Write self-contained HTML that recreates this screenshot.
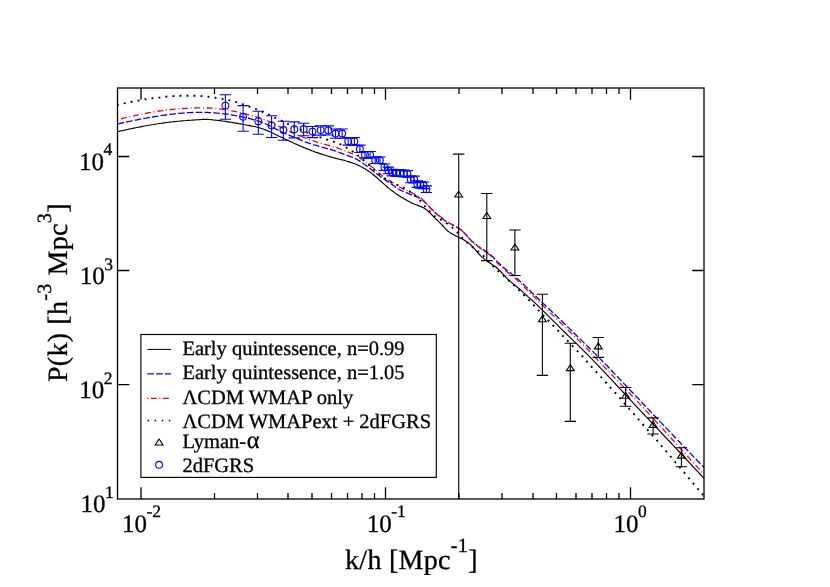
<!DOCTYPE html>
<html lang="en"><head><meta charset="utf-8"><title>P(k)</title>
<style>html,body{margin:0;padding:0;background:#fff}svg{display:block;will-change:transform}text{font-family:"Liberation Serif","DejaVu Serif",serif;fill:#000;stroke:#000;stroke-width:0.3px;text-rendering:geometricPrecision}</style>
</head><body>
<svg width="830" height="587" viewBox="0 0 830 587">
<rect width="830" height="587" fill="#fff"/>
<defs><clipPath id="c"><rect x="117.5" y="88.0" width="586.5" height="411.0"/></clipPath></defs>
<g clip-path="url(#c)" fill="none">
<path d="M117.5 131.7 L119.0 131.4 L120.5 131.0 L122.0 130.7 L123.5 130.4 L125.0 130.0 L126.5 129.7 L128.0 129.4 L129.5 129.0 L131.0 128.7 L132.5 128.4 L134.0 128.1 L135.5 127.8 L137.0 127.5 L138.5 127.2 L140.0 126.9 L141.5 126.6 L143.0 126.3 L144.5 126.0 L146.0 125.8 L147.5 125.5 L149.0 125.2 L150.5 125.0 L152.0 124.7 L153.5 124.5 L155.0 124.2 L156.5 124.0 L158.0 123.8 L159.5 123.5 L161.0 123.3 L162.5 123.1 L164.0 122.9 L165.5 122.7 L167.0 122.5 L168.5 122.3 L170.0 122.1 L171.5 122.0 L173.0 121.8 L174.5 121.6 L176.0 121.5 L177.5 121.3 L179.0 121.2 L180.5 121.0 L182.0 120.9 L183.5 120.8 L185.0 120.7 L186.5 120.5 L188.0 120.4 L189.5 120.3 L191.0 120.2 L192.5 120.1 L194.0 120.0 L195.5 119.9 L197.0 119.8 L198.5 119.7 L200.0 119.6 L201.5 119.5 L203.0 119.4 L204.5 119.3 L206.0 119.3 L207.5 119.4 L209.0 119.5 L210.5 119.6 L212.0 119.8 L213.5 120.0 L215.0 120.1 L216.5 120.3 L218.0 120.4 L219.5 120.6 L221.0 120.8 L222.5 121.0 L224.0 121.2 L225.5 121.4 L227.0 121.6 L228.5 121.9 L230.0 122.1 L231.5 122.3 L233.0 122.6 L234.5 122.9 L236.0 123.1 L237.5 123.4 L239.0 123.7 L240.5 123.9 L242.0 124.2 L243.5 124.5 L245.0 124.8 L246.5 125.1 L248.0 125.3 L249.5 125.6 L251.0 125.9 L252.5 126.2 L254.0 126.5 L255.5 126.8 L257.0 127.2 L258.5 127.6 L260.0 128.0 L261.5 128.5 L263.0 129.0 L264.5 129.5 L266.0 130.1 L267.5 130.7 L269.0 131.4 L270.5 132.1 L272.0 132.8 L273.5 133.6 L275.0 134.3 L276.5 135.0 L278.0 135.7 L279.5 136.4 L281.0 137.1 L282.5 137.8 L284.0 138.5 L285.5 139.2 L287.0 140.0 L288.5 140.7 L290.0 141.4 L291.5 142.1 L293.0 142.8 L294.5 143.5 L296.0 144.1 L297.5 144.8 L299.0 145.5 L300.5 146.1 L302.0 146.8 L303.5 147.4 L305.0 148.0 L306.5 148.6 L308.0 149.2 L309.5 149.8 L311.0 150.4 L312.5 151.0 L314.0 151.5 L315.5 152.1 L317.0 152.6 L318.5 153.1 L320.0 153.6 L321.5 154.1 L323.0 154.6 L324.5 155.0 L326.0 155.5 L327.5 156.0 L329.0 156.4 L330.5 156.9 L332.0 157.3 L333.5 157.7 L335.0 158.1 L336.5 158.5 L338.0 158.9 L339.5 159.2 L341.0 159.6 L342.5 159.9 L344.0 160.3 L345.5 160.7 L347.0 161.2 L348.5 161.6 L350.0 162.1 L351.5 162.6 L353.0 163.2 L354.5 163.7 L356.0 164.3 L357.5 165.0 L359.0 165.6 L360.5 166.4 L362.0 167.1 L363.5 167.9 L365.0 168.8 L366.5 169.8 L368.0 170.7 L369.5 171.8 L371.0 172.9 L372.5 174.0 L374.0 175.2 L375.5 176.5 L377.0 177.8 L378.5 179.1 L380.0 180.5 L381.5 181.8 L383.0 183.2 L384.5 184.6 L386.0 185.9 L387.5 187.2 L389.0 188.4 L390.5 189.6 L392.0 190.7 L393.5 191.8 L395.0 192.9 L396.5 193.9 L398.0 194.9 L399.5 195.9 L401.0 196.9 L402.5 197.8 L404.0 198.7 L405.5 199.6 L407.0 200.5 L408.5 201.3 L410.0 202.1 L411.5 202.9 L413.0 203.5 L414.5 204.2 L416.0 204.7 L417.5 205.3 L419.0 205.9 L420.5 206.5 L422.0 207.1 L423.5 207.8 L425.0 208.7 L426.5 209.8 L428.0 211.1 L429.5 212.5 L431.0 214.0 L432.5 215.5 L434.0 217.0 L435.5 218.6 L437.0 220.0 L438.5 221.4 L440.0 222.8 L441.5 224.3 L443.0 226.0 L444.5 227.7 L446.0 229.3 L447.5 230.7 L449.0 231.9 L450.5 232.9 L452.0 233.8 L453.5 234.7 L455.0 235.5 L456.5 236.3 L458.0 237.0 L459.5 237.7 L461.0 238.4 L462.5 239.1 L464.0 240.0 L465.5 240.9 L467.0 242.0 L468.5 243.1 L470.0 244.4 L471.5 245.7 L473.0 247.2 L474.5 248.9 L476.0 250.6 L477.5 252.3 L479.0 254.0 L480.5 255.6 L482.0 257.1 L483.5 258.4 L485.0 259.6 L486.5 260.7 L488.0 261.7 L489.5 262.7 L491.0 263.7 L492.5 264.8 L494.0 265.8 L495.5 266.8 L497.0 268.0 L498.5 269.4 L500.0 270.9 L501.5 272.5 L503.0 274.1 L504.5 275.7 L506.0 277.3 L507.5 278.8 L509.0 280.3 L510.5 281.6 L512.0 282.9 L513.5 284.1 L515.0 285.3 L516.5 286.5 L518.0 287.7 L519.5 289.0 L521.0 290.4 L522.5 291.7 L524.0 293.1 L525.5 294.4 L527.0 295.7 L528.5 297.1 L530.0 298.4 L531.5 299.8 L533.0 301.1 L534.5 302.5 L536.0 303.9 L537.5 305.4 L539.0 306.8 L540.5 308.3 L542.0 309.7 L543.5 311.2 L545.0 312.7 L546.5 314.2 L548.0 315.7 L549.5 317.2 L551.0 318.7 L552.5 320.2 L554.0 321.7 L555.5 323.2 L557.0 324.7 L558.5 326.2 L560.0 327.7 L561.5 329.1 L563.0 330.6 L564.5 332.0 L566.0 333.5 L567.5 335.0 L569.0 336.4 L570.5 337.9 L572.0 339.3 L573.5 340.8 L575.0 342.2 L576.5 343.7 L578.0 345.1 L579.5 346.6 L581.0 348.1 L582.5 349.6 L584.0 351.1 L585.5 352.6 L587.0 354.1 L588.5 355.6 L590.0 357.2 L591.5 358.7 L593.0 360.2 L594.5 361.8 L596.0 363.3 L597.5 364.9 L599.0 366.5 L600.5 368.1 L602.0 369.6 L603.5 371.2 L605.0 372.8 L606.5 374.4 L608.0 376.0 L609.5 377.6 L611.0 379.2 L612.5 380.8 L614.0 382.4 L615.5 384.0 L617.0 385.6 L618.5 387.2 L620.0 388.8 L621.5 390.4 L623.0 392.0 L624.5 393.6 L626.0 395.2 L627.5 396.9 L629.0 398.5 L630.5 400.1 L632.0 401.7 L633.5 403.4 L635.0 405.0 L636.5 406.6 L638.0 408.2 L639.5 409.7 L641.0 411.3 L642.5 412.9 L644.0 414.5 L645.5 416.1 L647.0 417.6 L648.5 419.2 L650.0 420.8 L651.5 422.4 L653.0 424.0 L654.5 425.5 L656.0 427.1 L657.5 428.7 L659.0 430.3 L660.5 431.9 L662.0 433.5 L663.5 435.1 L665.0 436.7 L666.5 438.3 L668.0 439.9 L669.5 441.5 L671.0 443.0 L672.5 444.6 L674.0 446.2 L675.5 447.8 L677.0 449.4 L678.5 451.0 L680.0 452.6 L681.5 454.2 L683.0 455.8 L684.5 457.4 L686.0 459.0 L687.5 460.7 L689.0 462.3 L690.5 463.9 L692.0 465.5 L693.5 467.1 L695.0 468.7 L696.5 470.3 L698.0 471.9 L699.5 473.5 L701.0 475.1 L702.5 476.7 L704.0 478.3" stroke="#000" stroke-width="1.15"/>
<path d="M117.5 124.0 L119.0 123.7 L120.5 123.3 L122.0 123.0 L123.5 122.7 L125.0 122.4 L126.5 122.0 L128.0 121.7 L129.5 121.4 L131.0 121.1 L132.5 120.7 L134.0 120.4 L135.5 120.1 L137.0 119.8 L138.5 119.5 L140.0 119.2 L141.5 118.9 L143.0 118.6 L144.5 118.3 L146.0 118.1 L147.5 117.8 L149.0 117.5 L150.5 117.3 L152.0 117.0 L153.5 116.8 L155.0 116.5 L156.5 116.3 L158.0 116.1 L159.5 115.8 L161.0 115.6 L162.5 115.4 L164.0 115.2 L165.5 115.0 L167.0 114.8 L168.5 114.6 L170.0 114.4 L171.5 114.2 L173.0 114.1 L174.5 113.9 L176.0 113.7 L177.5 113.6 L179.0 113.4 L180.5 113.3 L182.0 113.2 L183.5 113.1 L185.0 112.9 L186.5 112.8 L188.0 112.7 L189.5 112.7 L191.0 112.6 L192.5 112.5 L194.0 112.5 L195.5 112.4 L197.0 112.4 L198.5 112.4 L200.0 112.4 L201.5 112.4 L203.0 112.4 L204.5 112.4 L206.0 112.4 L207.5 112.5 L209.0 112.6 L210.5 112.6 L212.0 112.7 L213.5 112.8 L215.0 112.9 L216.5 113.1 L218.0 113.2 L219.5 113.3 L221.0 113.5 L222.5 113.7 L224.0 113.8 L225.5 114.0 L227.0 114.2 L228.5 114.4 L230.0 114.6 L231.5 114.9 L233.0 115.1 L234.5 115.4 L236.0 115.6 L237.5 115.9 L239.0 116.2 L240.5 116.5 L242.0 116.8 L243.5 117.1 L245.0 117.5 L246.5 117.8 L248.0 118.2 L249.5 118.5 L251.0 118.9 L252.5 119.3 L254.0 119.8 L255.5 120.2 L257.0 120.7 L258.5 121.2 L260.0 121.7 L261.5 122.2 L263.0 122.8 L264.5 123.4 L266.0 124.0 L267.5 124.7 L269.0 125.4 L270.5 126.2 L272.0 127.0 L273.5 127.7 L275.0 128.5 L276.5 129.3 L278.0 130.0 L279.5 130.8 L281.0 131.5 L282.5 132.3 L284.0 133.0 L285.5 133.6 L287.0 134.3 L288.5 134.9 L290.0 135.6 L291.5 136.2 L293.0 136.8 L294.5 137.4 L296.0 138.0 L297.5 138.7 L299.0 139.3 L300.5 139.9 L302.0 140.6 L303.5 141.2 L305.0 141.8 L306.5 142.3 L308.0 142.8 L309.5 143.4 L311.0 143.8 L312.5 144.3 L314.0 144.8 L315.5 145.2 L317.0 145.7 L318.5 146.1 L320.0 146.6 L321.5 147.0 L323.0 147.5 L324.5 147.9 L326.0 148.3 L327.5 148.7 L329.0 149.1 L330.5 149.5 L332.0 149.9 L333.5 150.3 L335.0 150.8 L336.5 151.3 L338.0 151.9 L339.5 152.5 L341.0 153.1 L342.5 153.7 L344.0 154.3 L345.5 154.8 L347.0 155.3 L348.5 155.8 L350.0 156.3 L351.5 156.8 L353.0 157.4 L354.5 158.1 L356.0 158.9 L357.5 159.7 L359.0 160.6 L360.5 161.6 L362.0 162.6 L363.5 163.7 L365.0 164.7 L366.5 165.8 L368.0 166.9 L369.5 168.0 L371.0 169.2 L372.5 170.5 L374.0 171.7 L375.5 172.9 L377.0 174.1 L378.5 175.2 L380.0 176.3 L381.5 177.4 L383.0 178.4 L384.5 179.4 L386.0 180.4 L387.5 181.4 L389.0 182.4 L390.5 183.4 L392.0 184.4 L393.5 185.6 L395.0 186.7 L396.5 187.9 L398.0 188.8 L399.5 189.6 L401.0 190.3 L402.5 191.0 L404.0 191.6 L405.5 192.3 L407.0 192.9 L408.5 193.6 L410.0 194.2 L411.5 194.8 L413.0 195.4 L414.5 195.9 L416.0 196.4 L417.5 197.1 L419.0 197.9 L420.5 198.8 L422.0 199.9 L423.5 201.1 L425.0 202.5 L426.5 203.9 L428.0 205.4 L429.5 206.9 L431.0 208.5 L432.5 210.0 L434.0 211.5 L435.5 212.9 L437.0 214.3 L438.5 215.6 L440.0 216.8 L441.5 218.0 L443.0 219.1 L444.5 220.2 L446.0 221.2 L447.5 222.1 L449.0 223.0 L450.5 223.8 L452.0 224.6 L453.5 225.4 L455.0 226.2 L456.5 227.0 L458.0 227.9 L459.5 228.9 L461.0 230.1 L462.5 231.3 L464.0 232.7 L465.5 234.2 L467.0 235.8 L468.5 237.4 L470.0 239.1 L471.5 240.6 L473.0 242.1 L474.5 243.3 L476.0 244.5 L477.5 245.7 L479.0 246.8 L480.5 247.9 L482.0 249.0 L483.5 249.9 L485.0 250.9 L486.5 251.9 L488.0 252.9 L489.5 254.0 L491.0 255.2 L492.5 256.5 L494.0 258.0 L495.5 259.7 L497.0 261.3 L498.5 262.8 L500.0 264.2 L501.5 265.6 L503.0 266.9 L504.5 268.3 L506.0 269.5 L507.5 270.7 L509.0 271.9 L510.5 273.0 L512.0 274.2 L513.5 275.3 L515.0 276.5 L516.5 277.9 L518.0 279.2 L519.5 280.6 L521.0 282.1 L522.5 283.5 L524.0 284.9 L525.5 286.4 L527.0 287.8 L528.5 289.3 L530.0 290.7 L531.5 292.2 L533.0 293.7 L534.5 295.1 L536.0 296.6 L537.5 298.0 L539.0 299.4 L540.5 300.8 L542.0 302.2 L543.5 303.7 L545.0 305.1 L546.5 306.5 L548.0 307.9 L549.5 309.3 L551.0 310.8 L552.5 312.2 L554.0 313.6 L555.5 315.1 L557.0 316.5 L558.5 317.9 L560.0 319.4 L561.5 320.8 L563.0 322.3 L564.5 323.7 L566.0 325.2 L567.5 326.6 L569.0 328.1 L570.5 329.6 L572.0 331.0 L573.5 332.5 L575.0 334.0 L576.5 335.5 L578.0 337.0 L579.5 338.4 L581.0 339.9 L582.5 341.4 L584.0 342.8 L585.5 344.3 L587.0 345.8 L588.5 347.2 L590.0 348.7 L591.5 350.2 L593.0 351.6 L594.5 353.1 L596.0 354.6 L597.5 356.1 L599.0 357.6 L600.5 359.1 L602.0 360.7 L603.5 362.2 L605.0 363.7 L606.5 365.3 L608.0 366.8 L609.5 368.4 L611.0 370.0 L612.5 371.5 L614.0 373.1 L615.5 374.7 L617.0 376.3 L618.5 377.8 L620.0 379.4 L621.5 381.0 L623.0 382.6 L624.5 384.1 L626.0 385.7 L627.5 387.3 L629.0 388.8 L630.5 390.4 L632.0 392.0 L633.5 393.6 L635.0 395.1 L636.5 396.7 L638.0 398.3 L639.5 399.9 L641.0 401.5 L642.5 403.1 L644.0 404.7 L645.5 406.3 L647.0 407.8 L648.5 409.4 L650.0 411.0 L651.5 412.6 L653.0 414.2 L654.5 415.8 L656.0 417.3 L657.5 418.9 L659.0 420.5 L660.5 422.1 L662.0 423.6 L663.5 425.2 L665.0 426.8 L666.5 428.4 L668.0 429.9 L669.5 431.5 L671.0 433.1 L672.5 434.6 L674.0 436.2 L675.5 437.8 L677.0 439.4 L678.5 440.9 L680.0 442.5 L681.5 444.1 L683.0 445.6 L684.5 447.2 L686.0 448.7 L687.5 450.3 L689.0 451.9 L690.5 453.4 L692.0 455.0 L693.5 456.6 L695.0 458.1 L696.5 459.7 L698.0 461.3 L699.5 462.8 L701.0 464.4 L702.5 465.9 L704.0 467.5" stroke="#00f" stroke-width="1.30" stroke-dasharray="6.6 2.2" stroke-dashoffset="0"/>
<path d="M117.5 119.5 L119.0 119.2 L120.5 118.8 L122.0 118.5 L123.5 118.1 L125.0 117.8 L126.5 117.4 L128.0 117.1 L129.5 116.8 L131.0 116.4 L132.5 116.1 L134.0 115.8 L135.5 115.4 L137.0 115.1 L138.5 114.8 L140.0 114.5 L141.5 114.2 L143.0 113.9 L144.5 113.6 L146.0 113.3 L147.5 113.0 L149.0 112.7 L150.5 112.5 L152.0 112.2 L153.5 111.9 L155.0 111.7 L156.5 111.5 L158.0 111.2 L159.5 111.0 L161.0 110.8 L162.5 110.6 L164.0 110.4 L165.5 110.2 L167.0 110.0 L168.5 109.8 L170.0 109.7 L171.5 109.5 L173.0 109.3 L174.5 109.2 L176.0 109.1 L177.5 108.9 L179.0 108.8 L180.5 108.7 L182.0 108.6 L183.5 108.5 L185.0 108.4 L186.5 108.3 L188.0 108.3 L189.5 108.2 L191.0 108.1 L192.5 108.1 L194.0 108.0 L195.5 108.0 L197.0 107.9 L198.5 107.9 L200.0 107.9 L201.5 107.9 L203.0 107.9 L204.5 107.9 L206.0 108.0 L207.5 108.0 L209.0 108.0 L210.5 108.1 L212.0 108.2 L213.5 108.3 L215.0 108.4 L216.5 108.6 L218.0 108.7 L219.5 108.9 L221.0 109.1 L222.5 109.3 L224.0 109.5 L225.5 109.7 L227.0 109.9 L228.5 110.2 L230.0 110.5 L231.5 110.8 L233.0 111.1 L234.5 111.4 L236.0 111.7 L237.5 112.0 L239.0 112.3 L240.5 112.7 L242.0 113.1 L243.5 113.4 L245.0 113.8 L246.5 114.2 L248.0 114.6 L249.5 115.0 L251.0 115.4 L252.5 115.8 L254.0 116.3 L255.5 116.7 L257.0 117.2 L258.5 117.6 L260.0 118.1 L261.5 118.6 L263.0 119.2 L264.5 119.7 L266.0 120.3 L267.5 120.9 L269.0 121.5 L270.5 122.2 L272.0 122.9 L273.5 123.6 L275.0 124.3 L276.5 125.0 L278.0 125.8 L279.5 126.6 L281.0 127.3 L282.5 128.1 L284.0 128.8 L285.5 129.5 L287.0 130.3 L288.5 131.0 L290.0 131.6 L291.5 132.3 L293.0 133.0 L294.5 133.6 L296.0 134.2 L297.5 134.9 L299.0 135.5 L300.5 136.1 L302.0 136.7 L303.5 137.3 L305.0 137.9 L306.5 138.4 L308.0 139.0 L309.5 139.5 L311.0 140.1 L312.5 140.6 L314.0 141.1 L315.5 141.6 L317.0 142.1 L318.5 142.6 L320.0 143.0 L321.5 143.5 L323.0 143.9 L324.5 144.3 L326.0 144.7 L327.5 145.1 L329.0 145.5 L330.5 145.9 L332.0 146.3 L333.5 146.8 L335.0 147.2 L336.5 147.7 L338.0 148.2 L339.5 148.7 L341.0 149.3 L342.5 149.8 L344.0 150.4 L345.5 151.0 L347.0 151.6 L348.5 152.2 L350.0 152.8 L351.5 153.4 L353.0 154.0 L354.5 154.7 L356.0 155.4 L357.5 156.3 L359.0 157.3 L360.5 158.4 L362.0 159.6 L363.5 160.7 L365.0 161.8 L366.5 162.8 L368.0 163.9 L369.5 165.0 L371.0 166.2 L372.5 167.5 L374.0 168.8 L375.5 170.1 L377.0 171.5 L378.5 172.7 L380.0 174.0 L381.5 175.2 L383.0 176.3 L384.5 177.4 L386.0 178.4 L387.5 179.4 L389.0 180.4 L390.5 181.3 L392.0 182.2 L393.5 183.2 L395.0 184.1 L396.5 185.1 L398.0 186.1 L399.5 187.0 L401.0 187.8 L402.5 188.6 L404.0 189.3 L405.5 190.0 L407.0 190.7 L408.5 191.4 L410.0 192.0 L411.5 192.7 L413.0 193.4 L414.5 194.1 L416.0 194.9 L417.5 195.8 L419.0 196.8 L420.5 197.9 L422.0 199.1 L423.5 200.5 L425.0 202.0 L426.5 203.6 L428.0 205.3 L429.5 206.9 L431.0 208.5 L432.5 210.0 L434.0 211.5 L435.5 212.8 L437.0 214.1 L438.5 215.3 L440.0 216.5 L441.5 217.6 L443.0 218.7 L444.5 219.9 L446.0 221.0 L447.5 222.0 L449.0 222.9 L450.5 223.7 L452.0 224.5 L453.5 225.3 L455.0 226.1 L456.5 227.0 L458.0 227.9 L459.5 228.9 L461.0 230.0 L462.5 231.3 L464.0 232.7 L465.5 234.3 L467.0 236.0 L468.5 237.8 L470.0 239.4 L471.5 241.0 L473.0 242.4 L474.5 243.7 L476.0 244.9 L477.5 246.1 L479.0 247.3 L480.5 248.5 L482.0 249.6 L483.5 250.6 L485.0 251.7 L486.5 252.7 L488.0 253.7 L489.5 254.8 L491.0 256.1 L492.5 257.5 L494.0 259.1 L495.5 260.8 L497.0 262.5 L498.5 264.0 L500.0 265.5 L501.5 266.9 L503.0 268.3 L504.5 269.6 L506.0 270.9 L507.5 272.2 L509.0 273.4 L510.5 274.5 L512.0 275.7 L513.5 276.9 L515.0 278.2 L516.5 279.5 L518.0 280.9 L519.5 282.4 L521.0 283.9 L522.5 285.4 L524.0 286.9 L525.5 288.3 L527.0 289.8 L528.5 291.3 L530.0 292.8 L531.5 294.4 L533.0 295.9 L534.5 297.4 L536.0 298.9 L537.5 300.4 L539.0 301.8 L540.5 303.3 L542.0 304.7 L543.5 306.1 L545.0 307.6 L546.5 309.0 L548.0 310.5 L549.5 312.0 L551.0 313.4 L552.5 314.9 L554.0 316.4 L555.5 317.8 L557.0 319.3 L558.5 320.8 L560.0 322.2 L561.5 323.7 L563.0 325.1 L564.5 326.6 L566.0 328.0 L567.5 329.5 L569.0 330.9 L570.5 332.3 L572.0 333.8 L573.5 335.2 L575.0 336.7 L576.5 338.1 L578.0 339.6 L579.5 341.1 L581.0 342.6 L582.5 344.1 L584.0 345.6 L585.5 347.2 L587.0 348.7 L588.5 350.3 L590.0 351.9 L591.5 353.5 L593.0 355.1 L594.5 356.6 L596.0 358.2 L597.5 359.8 L599.0 361.4 L600.5 363.0 L602.0 364.5 L603.5 366.1 L605.0 367.7 L606.5 369.3 L608.0 370.8 L609.5 372.4 L611.0 374.0 L612.5 375.5 L614.0 377.1 L615.5 378.7 L617.0 380.2 L618.5 381.8 L620.0 383.3 L621.5 384.9 L623.0 386.4 L624.5 388.0 L626.0 389.5 L627.5 391.1 L629.0 392.6 L630.5 394.1 L632.0 395.7 L633.5 397.3 L635.0 398.8 L636.5 400.4 L638.0 402.0 L639.5 403.6 L641.0 405.3 L642.5 406.9 L644.0 408.5 L645.5 410.1 L647.0 411.8 L648.5 413.4 L650.0 415.0 L651.5 416.7 L653.0 418.3 L654.5 419.9 L656.0 421.6 L657.5 423.2 L659.0 424.9 L660.5 426.5 L662.0 428.2 L663.5 429.8 L665.0 431.4 L666.5 433.1 L668.0 434.7 L669.5 436.4 L671.0 438.0 L672.5 439.7 L674.0 441.3 L675.5 443.0 L677.0 444.7 L678.5 446.3 L680.0 448.0 L681.5 449.6 L683.0 451.3 L684.5 452.9 L686.0 454.6 L687.5 456.2 L689.0 457.9 L690.5 459.6 L692.0 461.2 L693.5 462.9 L695.0 464.5 L696.5 466.2 L698.0 467.9 L699.5 469.5 L701.0 471.2 L702.5 472.8 L704.0 474.5" stroke="#f00" stroke-width="1.30" stroke-dasharray="6 2.7 1 2.7" stroke-dashoffset="9"/>
<path d="M117.9 104.9 L119.4 104.5 L120.9 104.2 L122.4 103.8 L123.9 103.4 L125.4 103.1 L126.9 102.7 L128.4 102.4 L129.9 102.1 L131.4 101.8 L132.9 101.5 L134.4 101.2 L135.9 101.0 L137.4 100.7 L138.9 100.5 L140.4 100.2 L141.9 99.9 L143.4 99.6 L144.9 99.3 L146.4 99.1 L147.9 98.8 L149.4 98.6 L150.9 98.4 L152.4 98.2 L153.9 98.1 L155.4 97.9 L156.9 97.8 L158.4 97.6 L159.9 97.5 L161.4 97.3 L162.9 97.1 L164.4 96.9 L165.9 96.7 L167.4 96.5 L168.9 96.4 L170.4 96.3 L171.9 96.2 L173.4 96.1 L174.9 96.0 L176.4 96.0 L177.9 95.9 L179.4 95.9 L180.9 95.8 L182.4 95.8 L183.9 95.7 L185.4 95.7 L186.9 95.7 L188.4 95.7 L189.9 95.7 L191.4 95.7 L192.9 95.7 L194.4 95.8 L195.9 95.8 L197.4 95.9 L198.9 96.0 L200.4 96.0 L201.9 96.1 L203.4 96.3 L204.9 96.4 L206.4 96.5 L207.9 96.7 L209.4 96.9 L210.9 97.1 L212.4 97.3 L213.9 97.5 L215.4 97.7 L216.9 97.9 L218.4 98.1 L219.9 98.4 L221.4 98.6 L222.9 98.9 L224.4 99.1 L225.9 99.4 L227.4 99.7 L228.9 100.1 L230.4 100.4 L231.9 100.8 L233.4 101.2 L234.9 101.7 L236.4 102.2 L237.9 102.7 L239.4 103.2 L240.9 103.7 L242.4 104.2 L243.9 104.7 L245.4 105.2 L246.9 105.8 L248.4 106.3 L249.9 106.8 L251.4 107.4 L252.9 108.0 L254.4 108.5 L255.9 109.1 L257.4 109.8 L258.9 110.4 L260.4 111.0 L261.9 111.7 L263.4 112.4 L264.9 113.0 L266.4 113.7 L267.9 114.4 L269.4 115.1 L270.9 115.9 L272.4 116.6 L273.9 117.3 L275.4 118.0 L276.9 118.6 L278.4 119.3 L279.9 120.0 L281.4 120.7 L282.9 121.4 L284.4 122.1 L285.9 122.9 L287.4 123.7 L288.9 124.4 L290.4 125.1 L291.9 125.8 L293.4 126.5 L294.9 127.1 L296.4 127.8 L297.9 128.4 L299.4 129.0 L300.9 129.6 L302.4 130.3 L303.9 130.9 L305.4 131.6 L306.9 132.3 L308.4 132.9 L309.9 133.5 L311.4 134.1 L312.9 134.6 L314.4 135.2 L315.9 135.7 L317.4 136.2 L318.9 136.8 L320.4 137.3 L321.9 137.8 L323.4 138.3 L324.9 138.8 L326.4 139.3 L327.9 139.8 L329.4 140.3 L330.9 140.8 L332.4 141.4 L333.9 141.9 L335.4 142.4 L336.9 142.9 L338.4 143.5 L339.9 144.1 L341.4 144.8 L342.9 145.6 L344.4 146.4 L345.9 147.3 L347.4 148.2 L348.9 149.1 L350.4 150.0 L351.9 151.0 L353.4 152.0 L354.9 153.1 L356.4 154.2 L357.9 155.4 L359.4 156.6 L360.9 157.8 L362.4 159.1 L363.9 160.4 L365.4 161.7 L366.9 163.1 L368.4 164.4 L369.9 165.8 L371.4 167.1 L372.9 168.5 L374.4 169.8 L375.9 171.1 L377.4 172.3 L378.9 173.6 L380.4 174.9 L381.9 176.2 L383.4 177.4 L384.9 178.6 L386.4 179.5 L387.9 180.4 L389.4 181.1 L390.9 181.9 L392.4 182.6 L393.9 183.3 L395.4 184.0 L396.9 184.7 L398.4 185.4 L399.9 186.1 L401.4 186.7 L402.9 187.4 L404.4 188.2 L405.9 189.0 L407.4 189.9 L408.9 190.9 L410.4 192.0 L411.9 193.0 L413.4 194.2 L414.9 195.5 L416.4 196.8 L417.9 198.3 L419.4 199.9 L420.9 201.6 L422.4 203.3 L423.9 205.0 L425.4 206.8 L426.9 208.4 L428.4 210.1 L429.9 211.7 L431.4 213.3 L432.9 214.7 L434.4 216.0 L435.9 217.1 L437.4 218.0 L438.9 218.8 L440.4 219.5 L441.9 220.3 L443.4 221.2 L444.9 222.1 L446.4 223.1 L447.9 224.1 L449.4 225.2 L450.9 226.3 L452.4 227.6 L453.9 228.9 L455.4 230.3 L456.9 231.9 L458.4 233.6 L459.9 235.4 L461.4 237.1 L462.9 238.7 L464.4 240.2 L465.9 241.5 L467.4 242.8 L468.9 244.1 L470.4 245.4 L471.9 246.6 L473.4 247.8 L474.9 249.0 L476.4 250.1 L477.9 251.2 L479.4 252.4 L480.9 253.6 L482.4 254.9 L483.9 256.3 L485.4 257.9 L486.9 259.6 L488.4 261.3 L489.9 263.0 L491.4 264.6 L492.9 266.2 L494.4 267.7 L495.9 269.0 L497.4 270.4 L498.9 271.7 L500.4 273.0 L501.9 274.3 L503.4 275.6 L504.9 277.0 L506.4 278.4 L507.9 279.8 L509.4 281.2 L510.9 282.5 L512.4 283.9 L513.9 285.3 L515.4 286.7 L516.9 288.2 L518.4 289.6 L519.9 291.1 L521.4 292.6 L522.9 294.0 L524.4 295.5 L525.9 297.0 L527.4 298.5 L528.9 300.0 L530.4 301.6 L531.9 303.2 L533.4 304.8 L534.9 306.5 L536.4 308.1 L537.9 309.7 L539.4 311.2 L540.9 312.8 L542.4 314.3 L543.9 315.8 L545.4 317.4 L546.9 318.9 L548.4 320.5 L549.9 322.1 L551.4 323.7 L552.9 325.3 L554.4 326.8 L555.9 328.4 L557.4 330.0 L558.9 331.6 L560.4 333.2 L561.9 334.9 L563.4 336.5 L564.9 338.1 L566.4 339.7 L567.9 341.2 L569.4 342.7 L570.9 344.2 L572.4 345.8 L573.9 347.4 L575.4 349.0 L576.9 350.6 L578.4 352.2 L579.9 353.8 L581.4 355.3 L582.9 356.9 L584.4 358.6 L585.9 360.4 L587.4 362.1 L588.9 363.8 L590.4 365.4 L591.9 367.1 L593.4 368.8 L594.9 370.4 L596.4 372.1 L597.9 373.7 L599.4 375.2 L600.9 376.8 L602.4 378.5 L603.9 380.2 L605.4 382.0 L606.9 383.7 L608.4 385.4 L609.9 387.0 L611.4 388.6 L612.9 390.3 L614.4 391.9 L615.9 393.5 L617.4 395.2 L618.9 397.0 L620.4 398.7 L621.9 400.5 L623.4 402.2 L624.9 404.0 L626.4 405.7 L627.9 407.4 L629.4 409.1 L630.9 410.7 L632.4 412.4 L633.9 414.0 L635.4 415.8 L636.9 417.6 L638.4 419.4 L639.9 421.2 L641.4 422.9 L642.9 424.5 L644.4 426.2 L645.9 427.9 L647.4 429.6 L648.9 431.3 L650.4 432.9 L651.9 434.6 L653.4 436.3 L654.9 437.9 L656.4 439.6 L657.9 441.4 L659.4 443.2 L660.9 445.1 L662.4 446.9 L663.9 448.6 L665.4 450.4 L666.9 452.1 L668.4 453.8 L669.9 455.6 L671.4 457.4 L672.9 459.2 L674.4 461.1 L675.9 462.9 L677.4 464.7 L678.9 466.4 L680.4 468.1 L681.9 469.9 L683.4 471.7 L684.9 473.4 L686.4 475.2 L687.9 477.0 L689.4 478.8 L690.9 480.6 L692.4 482.4 L693.9 484.1 L695.4 485.9 L696.9 487.7 L698.4 489.5 L699.9 491.3 L701.4 493.0 L702.9 494.8 L704.4 496.6 L704.6 496.8" stroke="#000" stroke-width="1.90" stroke-dasharray="1.9 5.142" stroke-dashoffset="1"/>
<g stroke="#00f" stroke-width="1.10">
<path d="M225.4 94.8V119.3M219.7 94.8H231.1M219.7 119.3H231.1"/>
<circle cx="225.4" cy="105.6" r="3.40"/>
<path d="M243.1 105.6V131.3M237.4 105.6H248.8M237.4 131.3H248.8"/>
<circle cx="243.1" cy="116.8" r="3.40"/>
<path d="M258.3 111.3V134.2M252.6 111.3H264.0M252.6 134.2H264.0"/>
<circle cx="258.3" cy="121.2" r="3.40"/>
<path d="M271.6 115.7V137.5M265.9 115.7H277.3M265.9 137.5H277.3"/>
<circle cx="271.6" cy="125.4" r="3.40"/>
<path d="M283.4 121.3V140.2M277.7 121.3H289.1M277.7 140.2H289.1"/>
<circle cx="283.4" cy="130.0" r="3.40"/>
<path d="M294.3 121.9V137.9M288.6 121.9H300.0M288.6 137.9H300.0"/>
<circle cx="294.3" cy="129.2" r="3.40"/>
<path d="M303.6 123.2V135.7M297.9 123.2H309.3M297.9 135.7H309.3"/>
<circle cx="303.6" cy="129.0" r="3.40"/>
<path d="M312.5 126.5V137.6M306.8 126.5H318.2M306.8 137.6H318.2"/>
<circle cx="312.5" cy="131.6" r="3.40"/>
<path d="M320.7 125.7V135.1M315.0 125.7H326.4M315.0 135.1H326.4"/>
<circle cx="320.7" cy="130.1" r="3.40"/>
<path d="M328.3 125.9V135.0M322.6 125.9H334.0M322.6 135.0H334.0"/>
<circle cx="328.3" cy="130.3" r="3.40"/>
<path d="M335.5 129.0V138.2M329.8 129.0H341.2M329.8 138.2H341.2"/>
<circle cx="335.5" cy="133.5" r="3.40"/>
<path d="M342.2 129.0V138.2M336.5 129.0H347.9M336.5 138.2H347.9"/>
<circle cx="342.2" cy="133.5" r="3.40"/>
<path d="M348.2 137.5V145.1M342.5 137.5H353.9M342.5 145.1H353.9"/>
<circle cx="348.2" cy="141.3" r="3.40"/>
<path d="M354.4 137.5V145.1M348.7 137.5H360.1M348.7 145.1H360.1"/>
<circle cx="354.4" cy="141.3" r="3.40"/>
<path d="M359.9 145.1V152.5M354.2 145.1H365.6M354.2 152.5H365.6"/>
<circle cx="359.9" cy="149.0" r="3.40"/>
<path d="M365.0 151.5V157.9M359.3 151.5H370.7M359.3 157.9H370.7"/>
<circle cx="365.0" cy="154.9" r="3.40"/>
<path d="M370.1 151.5V157.9M364.4 151.5H375.8M364.4 157.9H375.8"/>
<circle cx="370.1" cy="154.9" r="3.40"/>
<path d="M375.2 157.0V163.5M369.5 157.0H380.9M369.5 163.5H380.9"/>
<circle cx="375.2" cy="160.3" r="3.40"/>
<path d="M379.9 157.0V163.5M374.2 157.0H385.6M374.2 163.5H385.6"/>
<circle cx="379.9" cy="160.3" r="3.40"/>
<path d="M384.4 164.0V170.5M378.7 164.0H390.1M378.7 170.5H390.1"/>
<circle cx="384.4" cy="167.2" r="3.40"/>
<path d="M388.3 167.1V173.7M382.6 167.1H394.0M382.6 173.7H394.0"/>
<circle cx="388.3" cy="170.4" r="3.40"/>
<path d="M392.4 169.3V175.9M386.7 169.3H398.1M386.7 175.9H398.1"/>
<circle cx="392.4" cy="172.6" r="3.40"/>
<path d="M396.3 169.7V176.3M390.6 169.7H402.0M390.6 176.3H402.0"/>
<circle cx="396.3" cy="173.0" r="3.40"/>
<path d="M400.1 169.9V176.5M394.4 169.9H405.8M394.4 176.5H405.8"/>
<circle cx="400.1" cy="173.2" r="3.40"/>
<path d="M403.8 170.1V176.7M398.1 170.1H409.5M398.1 176.7H409.5"/>
<circle cx="403.8" cy="173.4" r="3.40"/>
<path d="M407.3 170.6V177.2M401.6 170.6H413.0M401.6 177.2H413.0"/>
<circle cx="407.3" cy="173.9" r="3.40"/>
<path d="M410.8 176.1V182.7M405.1 176.1H416.5M405.1 182.7H416.5"/>
<circle cx="410.8" cy="179.4" r="3.40"/>
<path d="M414.1 176.1V182.7M408.4 176.1H419.8M408.4 182.7H419.8"/>
<circle cx="414.1" cy="179.4" r="3.40"/>
<path d="M417.3 180.8V187.4M411.6 180.8H423.0M411.6 187.4H423.0"/>
<circle cx="417.3" cy="184.1" r="3.40"/>
<path d="M420.4 181.6V188.2M414.7 181.6H426.1M414.7 188.2H426.1"/>
<circle cx="420.4" cy="184.9" r="3.40"/>
<path d="M423.5 182.0V188.6M417.8 182.0H429.2M417.8 188.6H429.2"/>
<circle cx="423.5" cy="185.3" r="3.40"/>
<path d="M426.4 185.9V192.5M420.7 185.9H432.1M420.7 192.5H432.1"/>
<circle cx="426.4" cy="189.2" r="3.40"/>
</g>
<g stroke="#000" stroke-width="1.10">
<path d="M458.7 154.1V520.0M453.0 154.1H464.4"/>
<path d="M458.70 191.05L462.60 197.05L454.80 197.05Z"/>
<path d="M486.8 193.5V260.6M481.1 193.5H492.5M481.1 260.6H492.5"/>
<path d="M486.80 212.45L490.70 218.45L482.90 218.45Z"/>
<path d="M514.9 230.0V275.5M509.2 230.0H520.6M509.2 275.5H520.6"/>
<path d="M514.90 243.95L518.80 249.95L511.00 249.95Z"/>
<path d="M542.4 294.3V375.4M536.7 294.3H548.1M536.7 375.4H548.1"/>
<path d="M542.40 315.70L546.30 321.70L538.50 321.70Z"/>
<path d="M570.3 343.3V421.4M564.6 343.3H576.0M564.6 421.4H576.0"/>
<path d="M570.30 364.65L574.20 370.65L566.40 370.65Z"/>
<path d="M598.3 337.5V357.4M592.6 337.5H604.0M592.6 357.4H604.0"/>
<path d="M598.30 342.85L602.20 348.85L594.40 348.85Z"/>
<path d="M625.6 387.5V406.3M619.9 387.5H631.3M619.9 406.3H631.3"/>
<path d="M625.60 392.20L629.50 398.20L621.70 398.20Z"/>
<path d="M653.1 417.9V434.0M647.4 417.9H658.8M647.4 434.0H658.8"/>
<path d="M653.10 421.50L657.00 427.50L649.20 427.50Z"/>
<path d="M681.4 447.8V466.8M675.7 447.8H687.1M675.7 466.8H687.1"/>
<path d="M681.40 452.10L685.30 458.10L677.50 458.10Z"/>
</g>
</g>
<g stroke="#000" stroke-width="1.30" fill="none">
<rect x="117.5" y="88.0" width="586.5" height="411.0"/>
<path d="M141.00 499.0v-11.8M141.00 88.0v11.8M214.50 499.0v-6.0M214.50 88.0v6.0M257.50 499.0v-6.0M257.50 88.0v6.0M288.00 499.0v-6.0M288.00 88.0v6.0M312.00 499.0v-6.0M312.00 88.0v6.0M331.50 499.0v-6.0M331.50 88.0v6.0M347.50 499.0v-6.0M347.50 88.0v6.0M362.00 499.0v-6.0M362.00 88.0v6.0M374.50 499.0v-6.0M374.50 88.0v6.0M385.50 499.0v-11.8M385.50 88.0v11.8M459.00 499.0v-6.0M459.00 88.0v6.0M502.00 499.0v-6.0M502.00 88.0v6.0M533.00 499.0v-6.0M533.00 88.0v6.0M556.50 499.0v-6.0M556.50 88.0v6.0M576.00 499.0v-6.0M576.00 88.0v6.0M592.00 499.0v-6.0M592.00 88.0v6.0M606.50 499.0v-6.0M606.50 88.0v6.0M619.00 499.0v-6.0M619.00 88.0v6.0M630.50 499.0v-11.8M630.50 88.0v11.8M117.5 384.70h11.8M704.0 384.70h-11.8M117.5 270.50h11.8M704.0 270.50h-11.8M117.5 156.50h11.8M704.0 156.50h-11.8"/>
</g>
<rect x="140.9" y="334.5" width="295.4" height="142.9" fill="#fff" stroke="#000" stroke-width="1.15"/>
<g fill="none">
<path d="M147.3 349.4H171.0" stroke="#000" stroke-width="1.00"/>
<path d="M147.3 373.8H171.0" stroke="#00f" stroke-width="1.20" stroke-dasharray="6.6 2.2"/>
<path d="M147.3 398.4H171.0" stroke="#f00" stroke-width="1.20" stroke-dasharray="1.2 2.4 6 2.4"/>
<path d="M147.5 420.5H171.0" stroke="#000" stroke-width="1.60" stroke-dasharray="1.6 5.5"/>
<path d="M159.10 438.95L163.00 444.95L155.20 444.95Z" stroke="#000" stroke-width="1.10"/>
<circle cx="159.1" cy="464.8" r="3.40" stroke="#00f" stroke-width="1.10"/>
</g>
<g font-size="20.5px" style="stroke-width:0.42px">
<text x="182.4" y="354.6">Early quintessence, n=0.99</text>
<text x="182.4" y="379.0">Early quintessence, n=1.05</text>
<text x="182.4" y="403.8">ΛCDM WMAP only</text>
<text x="182.4" y="427.5">ΛCDM WMAPext + 2dFGRS</text>
<text x="182.4" y="448.0">Lyman-<tspan font-size="24.5px" dx="0.6">α</tspan></text>
<text x="182.4" y="471.8">2dFGRS</text>
</g>
<text x="122.0" y="531.5" font-size="25.0px" text-anchor="start">10<tspan font-size="17.5px" dx="-0.5" dy="-14.7">-2</tspan></text>
<text x="366.7" y="531.5" font-size="25.0px" text-anchor="start">10<tspan font-size="17.5px" dx="-0.5" dy="-14.7">-1</tspan></text>
<text x="613.5" y="531.5" font-size="25.0px" text-anchor="start">10<tspan font-size="17.5px" dx="-0.5" dy="-14.7">0</tspan></text>
<text x="80.4" y="512.2" font-size="25.0px" text-anchor="start">10<tspan font-size="17.5px" dx="-0.5" dy="-14.7">1</tspan></text>
<text x="79.3" y="398.3" font-size="25.0px" text-anchor="start">10<tspan font-size="17.5px" dx="-0.5" dy="-14.7">2</tspan></text>
<text x="79.7" y="284.2" font-size="25.0px" text-anchor="start">10<tspan font-size="17.5px" dx="-0.5" dy="-14.7">3</tspan></text>
<text x="78.9" y="170.0" font-size="25.0px" text-anchor="start">10<tspan font-size="17.5px" dx="-0.5" dy="-14.7">4</tspan></text>
<text x="345.0" y="568.8" font-size="28.0px" letter-spacing="0.30">k/h [Mpc<tspan font-size="20.2px" dy="-16.8">-1</tspan><tspan dy="16.8">]</tspan></text>
<text transform="translate(66.8 382.0) rotate(-90)" font-size="28.0px" letter-spacing="0.30" word-spacing="0.6">P(k) [h<tspan font-size="20.2px" dy="-16.2">-3</tspan><tspan dy="16.2"> Mpc</tspan><tspan font-size="20.2px" dy="-16.2">3</tspan><tspan dy="16.2">]</tspan></text>
</svg>
</body></html>
